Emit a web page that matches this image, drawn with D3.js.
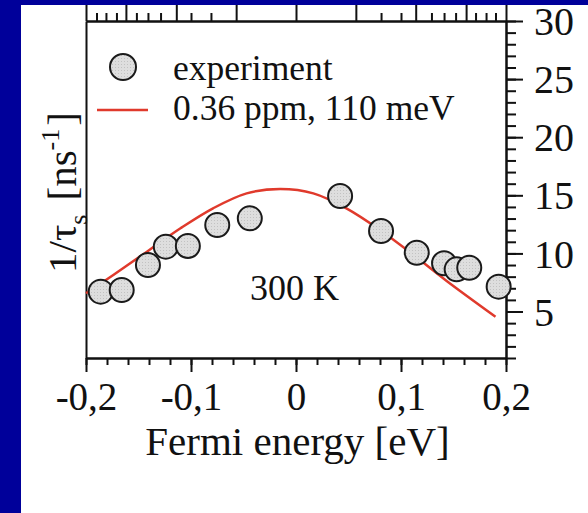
<!DOCTYPE html>
<html>
<head>
<meta charset="utf-8">
<script src="https://cdn.jsdelivr.net/npm/d3@7"></script>
<style>
  html, body { margin: 0; padding: 0; background: #00009a; }
  svg { display: block; }
  text { font-family: "Liberation Serif", "Times New Roman", serif; fill: #111; }
</style>
</head>
<body>
<svg id="chart" width="588" height="513"></svg>
<script>
// ---- data ----
const energy = [-0.186, -0.166, -0.141, -0.124, -0.103, -0.075, -0.044, 0.042, 0.081, 0.115, 0.141, 0.153, 0.165, 0.193];
const rate   = [6.71, 6.85, 9.0, 10.58, 10.64, 12.45, 13.02, 14.94, 11.93, 10.06, 9.15, 8.63, 8.77, 7.14];
const fitEnergy = [-0.2, -0.174, -0.142, -0.110, -0.079, -0.047, -0.015, 0.0165, 0.048, 0.080, 0.112, 0.1435, 0.19];
const fitRate   = [6.57, 8.14, 10.15, 12.16, 13.88, 15.17, 15.54, 15.17, 13.88, 12.02, 9.86, 7.63, 4.55];
const xMajorTicks = [-0.2, -0.1, 0, 0.1, 0.2];
const xMinorTicks = [-0.2, -0.18, -0.16, -0.14, -0.12, -0.1, -0.08, -0.06, -0.04, -0.02, 0, 0.02, 0.04, 0.06, 0.08, 0.1, 0.12, 0.14, 0.16, 0.18, 0.2];
const yMajorTicks = [5, 10, 15, 20, 25, 30];
const yMinorTicks = d3.range(1, 31);
const topMajorTicks = [-0.2, -0.162, -0.114, -0.057, 0, 0.057, 0.114, 0.162, 0.2];
const topMinorTicks = [-0.19, -0.181, -0.171, -0.152, -0.141, -0.129, -0.1, -0.081, 0.081, 0.1, 0.129, 0.141, 0.152, 0.171, 0.181, 0.19];
const legendLabels = ["experiment", "0.36 ppm, 110 meV"];
const annotation = "300 K";

// ---- drawing ----
const svg = d3.select("#chart");
const W = 588, H = 513;

// stippled grey fill for the symbols
const defs = svg.append("defs");
const pat = defs.append("pattern").attr("id", "stipple").attr("patternUnits", "userSpaceOnUse")
  .attr("width", 3).attr("height", 3);
pat.append("rect").attr("width", 3).attr("height", 3).attr("fill", "#dedede");
pat.append("rect").attr("x", 1).attr("y", 1).attr("width", 1).attr("height", 1).attr("fill", "#c2c2c2");

// white page on blue slide
svg.append("rect").attr("x", 0).attr("y", 0).attr("width", W).attr("height", H).attr("fill", "#00009a");
const page = svg.append("g");
page.append("rect").attr("x", 21).attr("y", 5).attr("width", W - 21).attr("height", H - 5).attr("fill", "#ffffff");

const x = d3.scaleLinear().domain([-0.2, 0.2]).range([86, 506]);
const y = d3.scaleLinear().domain([1, 30]).range([358, 21]);

const fmtX = v => Math.abs(v) < 1e-9 ? "0" : (v < 0 ? "-" : "") + Math.abs(v).toFixed(1).replace(".", ",");

function styleAxis(g) {
  g.selectAll("path.domain").attr("stroke", "#111").attr("stroke-width", 2);
  g.selectAll(".tick line").attr("stroke", "#111").attr("stroke-width", 2);
}

// top axis (secondary, labels hidden by slide edge)
page.append("g").attr("transform", `translate(0,${y(30)})`)
  .call(d3.axisTop(x).tickValues(topMinorTicks).tickSize(8).tickSizeOuter(0).tickFormat(""))
  .call(styleAxis);
page.append("g").attr("transform", `translate(0,${y(30)})`)
  .call(d3.axisTop(x).tickValues(topMajorTicks).tickSize(22).tickSizeOuter(0).tickFormat(""))
  .call(styleAxis);

// bottom axis
page.append("g").attr("transform", `translate(0,${y(1)})`)
  .call(d3.axisBottom(x).tickValues(xMinorTicks).tickSize(7).tickSizeOuter(0).tickFormat(""))
  .call(styleAxis);
const bx = page.append("g").attr("transform", `translate(0,${y(1)})`)
  .call(d3.axisBottom(x).tickValues(xMajorTicks).tickSize(14).tickSizeOuter(0).tickFormat(fmtX))
  .call(styleAxis);
bx.selectAll(".tick text").attr("y", 52).attr("dy", null)
  .style("font-size", "39px").style("font-family", "Liberation Serif").attr("fill", "#111");

// left axis (no ticks)
page.append("g").attr("transform", `translate(${x(-0.2)},0)`)
  .call(d3.axisLeft(y).tickValues([]).tickSizeOuter(0))
  .call(styleAxis);

// right axis
page.append("g").attr("transform", `translate(${x(0.2)},0)`)
  .call(d3.axisRight(y).tickValues(yMinorTicks).tickSize(10).tickSizeOuter(0).tickFormat(""))
  .call(styleAxis);
const ry = page.append("g").attr("transform", `translate(${x(0.2)},0)`)
  .call(d3.axisRight(y).tickValues(yMajorTicks).tickSize(17).tickSizeOuter(0).tickFormat(d3.format("d")))
  .call(styleAxis);
ry.selectAll(".tick text").attr("x", 28).attr("dy", "0.34em")
  .style("font-size", "40px").style("font-family", "Liberation Serif").attr("fill", "#111");

// fit curve
const line = d3.line().x((d, i) => x(fitEnergy[i])).y((d, i) => y(fitRate[i])).curve(d3.curveCatmullRom);
page.append("path").datum(fitRate).attr("d", line)
  .attr("fill", "none").attr("stroke", "#e03a2c").attr("stroke-width", 2.5);

// data points
page.append("g").selectAll("circle").data(energy).join("circle")
  .attr("cx", (d) => x(d)).attr("cy", (d, i) => y(rate[i])).attr("r", 12)
  .attr("fill", "url(#stipple)").attr("stroke", "#1a1a1a").attr("stroke-width", 2);

// annotation
page.append("text").attr("x", 250).attr("y", 300).style("font-size", "36px").text(annotation);

// legend
page.append("circle").attr("cx", 123).attr("cy", 67).attr("r", 13)
  .attr("fill", "url(#stipple)").attr("stroke", "#1a1a1a").attr("stroke-width", 2);
page.append("text").attr("x", 173).attr("y", 80).style("font-size", "35.5px").text(legendLabels[0]);
page.append("line").attr("x1", 97).attr("x2", 148).attr("y1", 110).attr("y2", 110)
  .attr("stroke", "#e03a2c").attr("stroke-width", 2.5);
page.append("text").attr("x", 173).attr("y", 120).style("font-size", "35.5px").text(legendLabels[1]);

// x title
page.append("text").attr("x", 297.5).attr("y", 455).attr("text-anchor", "middle")
  .style("font-size", "41px").text("Fermi energy [eV]");

// y title
const yt = page.append("text").attr("transform", "translate(76,273) rotate(-90)")
  .style("font-size", "41px");
yt.append("tspan").text("1/τ");
yt.append("tspan").attr("dy", 11).style("font-size", "26px").text("s");
yt.append("tspan").attr("dy", -11).attr("dx", 14).text("[ns");
yt.append("tspan").attr("dy", -17).style("font-size", "26px").text("-1");
yt.append("tspan").attr("dy", 17).attr("dx", 3).text("]");

// slide edges over everything
svg.append("rect").attr("x", 0).attr("y", 0).attr("width", 21).attr("height", H).attr("fill", "#00009a");
svg.append("rect").attr("x", 0).attr("y", 0).attr("width", W).attr("height", 5).attr("fill", "#00009a");
</script>
</body>
</html>
